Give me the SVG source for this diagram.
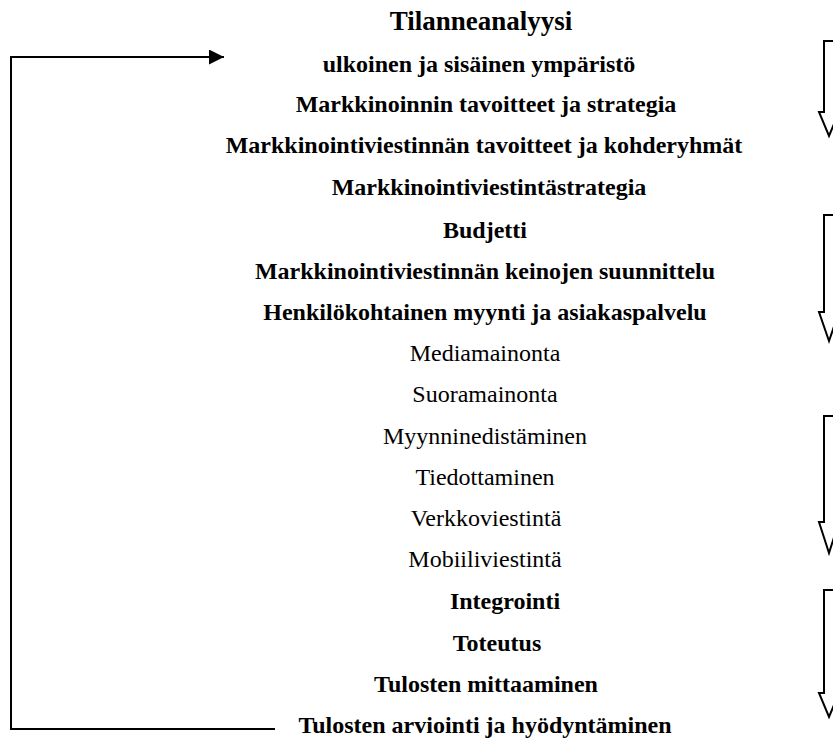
<svg xmlns="http://www.w3.org/2000/svg" width="833" height="740" viewBox="0 0 833 740">
<style>
text{font-family:"Liberation Serif","Times New Roman",serif;fill:#000;text-anchor:middle}
.b{font-weight:bold;font-size:24px}
.r{font-size:24px}
.t{font-weight:bold;font-size:27px}
.blk{fill:#fff;stroke:#000;stroke-width:2;stroke-linejoin:miter}
.ln{fill:none;stroke:#000;stroke-width:2}
</style>
<defs>
<marker id="ah" markerWidth="16" markerHeight="15" refX="15" refY="7.5" orient="auto" markerUnits="userSpaceOnUse">
<path d="M0,0 L15,7.5 L0,15 Z" fill="#000"/>
</marker>
</defs>
<rect width="833" height="740" fill="#fff"/>
<g id="connectors">
<polyline class="ln" points="275,729 11,729 11,57 224,57" marker-end="url(#ah)"/>
</g>
<g id="flow-arrows">
<path id="arrow1" class="blk" d="M824,41 H834 V112 H839 L829,136 L819,112 H824 Z"/>
<path id="arrow2" class="blk" d="M824,215 H834 V312 H839 L829,341 L819,312 H824 Z"/>
<path id="arrow3" class="blk" d="M824,416 H834 V522 H839 L829,553 L819,522 H824 Z"/>
<path id="arrow4" class="blk" d="M824,590 H834 V693 H839 L829,717 L819,693 H824 Z"/>
</g>
<g id="n1"><text class="t" x="481" y="30">Tilanneanalyysi</text></g>
<g id="n2"><text class="b" x="479" y="72">ulkoinen ja sisäinen ympäristö</text></g>
<g id="n3"><text class="b" x="486" y="112">Markkinoinnin tavoitteet ja strategia</text></g>
<g id="n4"><text class="b" x="484" y="153">Markkinointiviestinnän tavoitteet ja kohderyhmät</text></g>
<g id="n5"><text class="b" x="489" y="195">Markkinointiviestintästrategia</text></g>
<g id="n6"><text class="b" x="485" y="238">Budjetti</text></g>
<g id="n7"><text class="b" x="485" y="279">Markkinointiviestinnän keinojen suunnittelu</text></g>
<g id="n8"><text class="b" x="485" y="320">Henkilökohtainen myynti ja asiakaspalvelu</text></g>
<g id="n9"><text class="r" x="485" y="361">Mediamainonta</text></g>
<g id="n10"><text class="r" x="485" y="402">Suoramainonta</text></g>
<g id="n11"><text class="r" x="485" y="444">Myynninedistäminen</text></g>
<g id="n12"><text class="r" x="485" y="485">Tiedottaminen</text></g>
<g id="n13"><text class="r" x="486" y="526">Verkkoviestintä</text></g>
<g id="n14"><text class="r" x="485" y="567">Mobiiliviestintä</text></g>
<g id="n15"><text class="b" x="505" y="609">Integrointi</text></g>
<g id="n16"><text class="b" x="497" y="651">Toteutus</text></g>
<g id="n17"><text class="b" x="486" y="692">Tulosten mittaaminen</text></g>
<g id="n18"><text class="b" x="485" y="733">Tulosten arviointi ja hyödyntäminen</text></g>
</svg>
